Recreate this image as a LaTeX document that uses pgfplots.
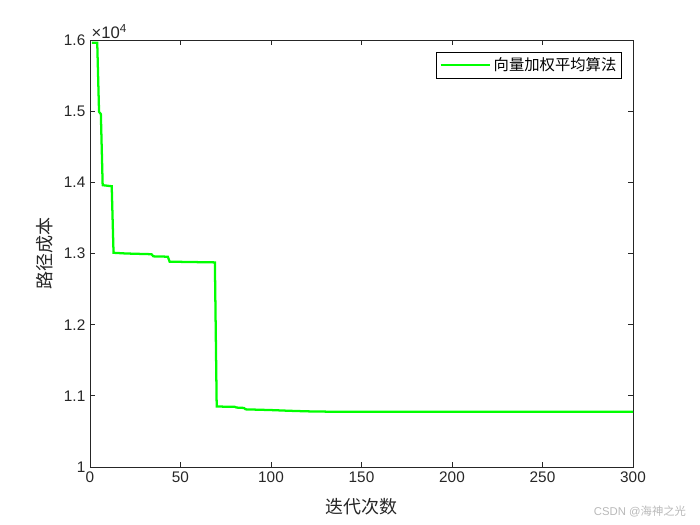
\documentclass[border=0pt]{standalone}
\usepackage{fontspec}
\setmainfont{Liberation Sans}
\newfontfamily\cjk{Noto Sans CJK SC}
\usepackage{pgfplots}
\pgfplotsset{compat=1.18}
\definecolor{axgray}{rgb}{0.15,0.15,0.15}
\begin{document}
\begin{tikzpicture}
\useasboundingbox (-67.5pt,-43.5pt) rectangle (457.5pt,350.25pt);
\begin{axis}[
  at={(0pt,0pt)}, anchor=south west,
  scale only axis, width=407.25pt, height=320.25pt,
  xmin=0, xmax=300, ymin=10000, ymax=16000,
  xtick={0,50,...,300},
  ytick={10000,11000,12000,13000,14000,15000,16000},
  scaled y ticks=base 10:-4,
  ytick scale label code/.code={×10\textsuperscript{4}},
  every y tick scale label/.style={at={(rel axis cs:0,1)}, anchor=south west, inner sep=1pt, xshift=0pt, yshift=0pt, font=\fontsize{12.5}{13}\selectfont, text=axgray},
  /pgf/number format/assume math mode=true,
  tick label style={font=\fontsize{11.5}{13}\selectfont, text=axgray},
  tick align=inside,
  major tick length=4pt,
  axis line style={axgray, line width=0.6pt},
  every tick/.style={axgray, line width=0.6pt},
  xlabel={\cjk 迭代次数},
  ylabel={\cjk 路径成本},
  xlabel style={at={(axis description cs:0.5,-0.0937)}, anchor=center, font=\fontsize{13.5}{15}\selectfont, text=axgray},
  ylabel style={at={(axis description cs:-0.0829,0.5)}, anchor=center, rotate=0, font=\fontsize{13.5}{15}\selectfont, text=axgray},
  legend style={at={(axis description cs:1,1)}, anchor=north east, xshift=-8.25pt, yshift=-9pt, draw=black, line width=0.5pt, font=\fontsize{11.5}{13}\selectfont\cjk, inner xsep=2pt, inner ysep=2pt, row sep=0pt},
  legend cell align=left,
  legend image code/.code={\draw[#1] (0pt,0pt) -- (37pt,0pt);},
]
\addplot[color={rgb,1:red,0;green,1;blue,0}, line width=1.7pt] coordinates {
(1,15960) (4,15960) (5,14990) (6,14960) (7,13960) (12,13945) (13,13010)
(20,13000) (34,12990) (35,12960) (43,12955) (44,12885) (69,12875)
(70,10850) (80,10845) (81,10835) (85,10830) (86,10810) (100,10800)
(110,10790) (120,10782) (133,10777) (300,10775)
};
\addlegendentry{向量加权平均算法}
\end{axis}
\node[text=gray!55, font=\fontsize{8.5}{10}\selectfont] at (412.5pt,-33pt) {CSDN @{\cjk 海神之光}};
\end{tikzpicture}
\end{document}
